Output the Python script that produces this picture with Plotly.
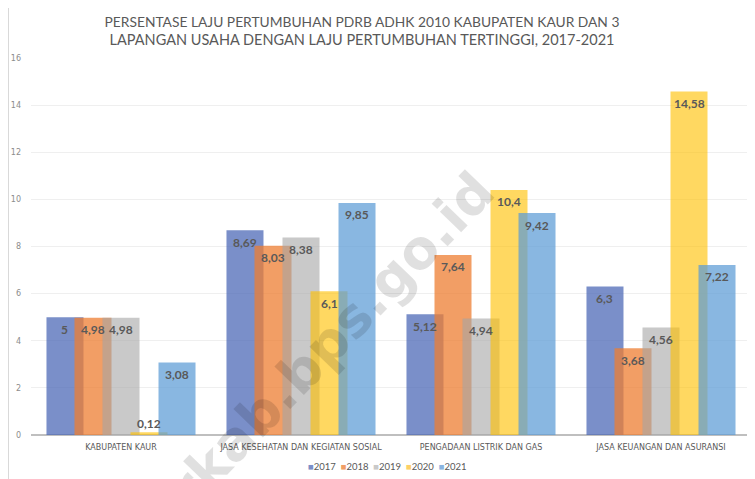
import plotly.graph_objects as go

categories = ["KABUPATEN KAUR", "JASA KESEHATAN DAN KEGIATAN SOSIAL",
              "PENGADAAN LISTRIK DAN GAS", "JASA KEUANGAN DAN ASURANSI"]
years = ["2017", "2018", "2019", "2020", "2021"]
v2017 = [5.00, 8.69, 5.12, 6.30]
v2018 = [4.98, 8.03, 7.64, 3.68]
v2019 = [4.98, 8.38, 4.94, 4.56]
v2020 = [0.12, 6.10, 10.40, 14.58]
v2021 = [3.08, 9.85, 9.42, 7.22]
series = [v2017, v2018, v2019, v2020, v2021]
y_ticks = [0, 2, 4, 6, 8, 10, 12, 14, 16]
title_lines = ["PERSENTASE LAJU PERTUMBUHAN PDRB ADHK 2010 KABUPATEN KAUR DAN 3",
               "LAPANGAN USAHA DENGAN LAJU PERTUMBUHAN TERTINGGI, 2017-2021"]

colors = ["rgba(70,100,180,0.72)", "rgba(237,125,49,0.75)", "rgba(165,165,165,0.6)",
          "rgba(255,192,0,0.62)", "rgba(91,155,213,0.72)"]
legend_colors = ["#7B8FC8", "#F19E65", "#C9C9C9", "#FDD068", "#8AB4E0"]

def fmt(v):
    s = ("%.2f" % v).rstrip("0").rstrip(".")
    return s.replace(".", ",")

# page has an 8px body margin; figure coordinates = window coordinates - 8
W, H = 747, 471
L, R, T, B = 23, 4, 50, 44
pw, ph = W - L - R, H - T - B

def px(xw):
    return (xw - 8 - L) / pw

def py(yw):
    return (H - B - (yw - 8)) / ph

step = 0.1556
width = 0.2056
fig = go.Figure()
for k, (yr, vals) in enumerate(zip(years, series)):
    xs = [i + (k - 2) * step for i in range(len(categories))]
    fig.add_trace(go.Bar(x=xs, y=vals, width=width, name=yr, showlegend=False,
                         marker=dict(color=colors[k], line=dict(width=0))))
    for x, v in zip(xs, vals):
        fig.add_annotation(x=x, y=v, text=fmt(v), showarrow=False,
                           xanchor="center", yanchor="middle",
                           yshift=(9 if v < 1 else -12),
                           font=dict(family="Lato", size=12, color="#595959", weight="bold"))

# watermark
fig.add_annotation(text="kaurkab.bps.go.id", xref="paper", yref="paper",
                   x=px(292), y=py(380),
                   xanchor="center", yanchor="middle",
                   showarrow=False, textangle=-46,
                   font=dict(family="DejaVu Sans", size=54, color="rgba(0,0,0,0.12)", weight="bold"))

# legend (compact, as in the reference)
legend_text = "&nbsp;&nbsp;".join(
    "<span style='color:%s'>■</span>%s" % (c, y) for c, y in zip(legend_colors, years))
fig.add_annotation(text=legend_text, xref="paper", yref="paper",
                   x=px(387), y=py(466),
                   xanchor="center", yanchor="middle", showarrow=False,
                   font=dict(family="Lato", size=9.5, color="#595959"))

# chart frame left edge
fig.add_shape(type="line", xref="paper", yref="paper",
              x0=(0.5 - L) / pw, x1=(0.5 - L) / pw, y0=-B / ph, y1=1 + T / ph,
              line=dict(color="#D9D9D9", width=1))

title_text = ("<span style='font-size:13.8px'>%s</span><br>%s" % (title_lines[0], title_lines[1]))
fig.update_layout(
    width=W, height=H,
    margin=dict(l=L, r=R, t=T, b=B),
    barmode="overlay",
    plot_bgcolor="white", paper_bgcolor="white",
    title=dict(text=title_text,
               x=(362 - 8) / W, xanchor="center", y=1 - 18.5 / H, yanchor="middle",
               font=dict(family="Lato", size=14.5, color="#595959")),
    xaxis=dict(range=[-0.5, 3.5], tickvals=list(range(len(categories))), ticktext=categories,
               showgrid=False, zeroline=False, showline=False, ticks="",
               ticklabelstandoff=6,
               tickfont=dict(family="DejaVu Sans", size=8, color="#595959")),
    yaxis=dict(range=[0, 16], tickvals=y_ticks, showgrid=True, gridcolor="#EFEFEF",
               zeroline=True, zerolinecolor="#BFBFBF", zerolinewidth=2,
               ticklabelstandoff=9,
               tickfont=dict(family="DejaVu Sans", size=8, color="#8C8C8C"), ticks=""),
    showlegend=False,
)
fig.write_html("out.html")
